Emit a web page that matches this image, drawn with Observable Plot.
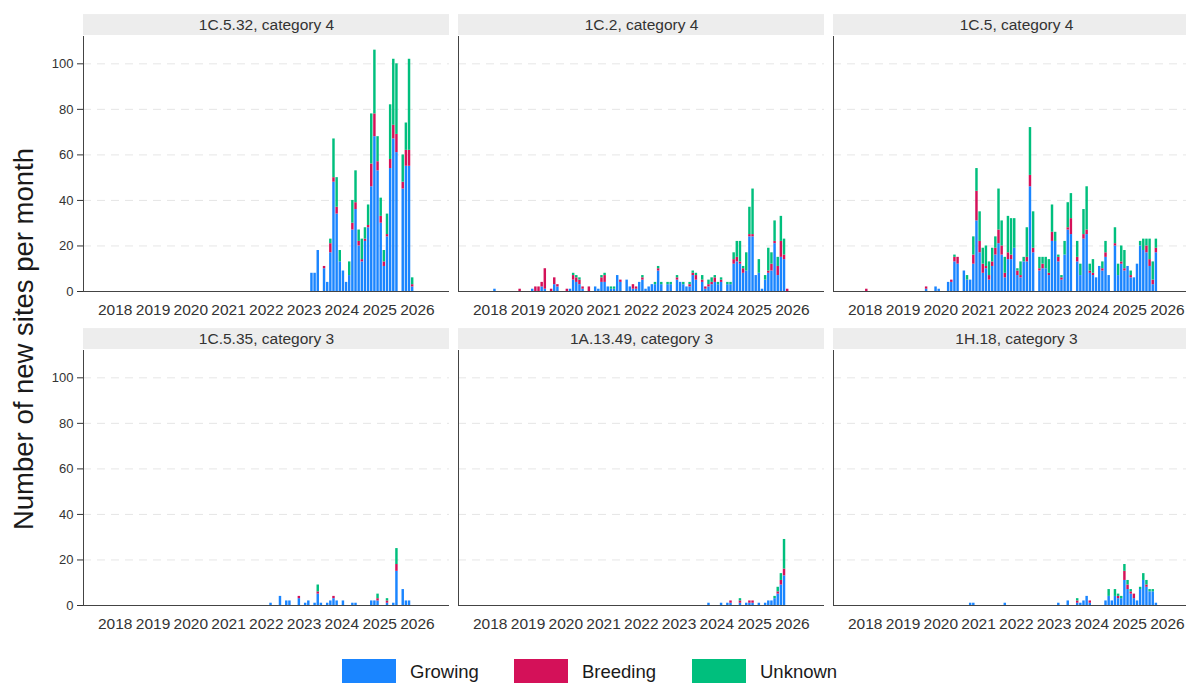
<!DOCTYPE html>
<html>
<head>
<meta charset="utf-8">
<script src="https://cdn.jsdelivr.net/npm/d3@7"></script>
<script src="https://cdn.jsdelivr.net/npm/@observablehq/plot@0.6"></script>
<style>
html, body { margin: 0; padding: 0; background: #fff; overflow: hidden; }
#wrap { position: relative; width: 1186px; height: 683px; overflow: hidden; font-family: "Liberation Sans", Arial, sans-serif; }
#chart { position: absolute; left: 0; top: 0; width: 1200px; }
#chart svg { max-width: none !important; }
#ytitle { position: absolute; left: 24px; top: 339px; transform: translate(-50%, -50%) rotate(-90deg); font-size: 27.5px; color: #1a1a1a; white-space: nowrap; line-height: 1.15; }
.key { position: absolute; top: 659px; width: 54px; height: 30px; }
.lab { position: absolute; top: 663px; font-size: 18.5px; line-height: 1; color: #1a1a1a; white-space: nowrap; }
</style>
</head>
<body>
<div id="wrap">
  <div id="chart"></div>
  <div id="ytitle">Number of new sites per month</div>
  <div id="legend"></div>
</div>
<script>
// ---- data (months counted from January 2018 = 0) ----
const panelLabels = ["1C.5.32, category 4", "1C.2, category 4", "1C.5, category 4",
                     "1C.5.35, category 3", "1A.13.49, category 3", "1H.18, category 3"];
const seriesNames = ["Growing", "Breeding", "Unknown"];
const seriesColors = ["#1A85FF", "#D41159", "#00BF7D"];
const years = [2018, 2019, 2020, 2021, 2022, 2023, 2024, 2025, 2026];
const yTicks = [0, 20, 40, 60, 80, 100];
const gridTicks = [20, 40, 60, 80, 100];

// 1C.5.32, category 4
const p1Months   = [62,63,64,66,67,68,69,70,71,72,73,74,75,76,77,78,79,80,81,82,83,84,85,86,87,88,89,91,92,93,94];
const p1Growing  = [8,8,18,10,4,17,48,34,13,9,4,7,27,36,20,13,22,28,46,68,53,30,11,24,54,67,61,45,55,55,2];
const p1Breeding = [0,0,0,1,0,4,2,3,0,0,0,0,3,3,2,1,1,1,10,10,4,3,2,1,4,6,8,3,7,7,1];
const p1Unknown  = [0,0,0,0,0,2,17,13,5,0,0,6,10,14,5,9,5,9,22,28,11,8,5,9,24,29,31,12,12,40,3];

// 1C.2, category 4
const p2Months   = [1,9,13,14,15,16,17,19,20,21,24,25,26,27,28,29,31,33,34,35,36,37,38,39,40,41,43,44,45,46,47,48,49,50,51,52,53,54,56,57,59,60,61,62,63,64,65,67,68,69,70,71,72,73,75,76,77,78,79,80,81,82,83,84,85,86,87,88,89,90,91,92,93,94];
const p2Growing  = [1,0,1,0,0,2,1,0,3,2, 0,1,5,4,3,1,0,2,1,4, 4,2,1,1,7,4,5,2,1,1, 4,5,1,2,3,3,9,3,3,3, 5,4,3,2,2,7,5,4,1,2, 3,4,3,4,3,3,12,13,12,8, 9,24,24,7,8,1,5,8,9,21, 7,15,14,0];
const p2Breeding = [0,1,0,2,2,2,9,1,3,1, 1,0,2,2,2,1,2,0,0,2, 3,0,0,0,0,1,0,0,2,1, 0,1,0,0,0,0,1,0,0,0, 1,0,0,0,1,1,2,1,1,1, 1,2,0,1,0,0,2,2,1,2, 0,1,1,0,0,0,0,1,3,1, 4,7,2,1];
const p2Unknown  = [0,0,0,0,0,0,0,0,0,0, 0,0,1,1,1,0,0,0,0,1, 1,0,1,1,0,0,0,0,0,0, 0,1,0,0,0,1,1,1,1,1, 1,0,1,0,1,1,1,2,0,2, 2,1,1,1,1,1,3,7,9,1, 8,12,20,0,6,0,2,10,5,9, 4,11,7,0];

// 1C.5, category 4
const p3Months   = [0,19,22,23,26,27,28,29,31,32,33,34,35,36,37,38,39,40,41,42,43,44,45,46,47,48,49,50,51,52,53,55,56,57,58,59,60,61,62,63,64,65,67,68,69,70,71,72,73,74,75,76,77,79,80,81,82,83,84,85,86,87,88,89,90,91,92];
const p3Growing  = [0,1,2,1,4,4,13,12,9,5, 5,12,31,17,8,10,5,11,16,21, 16,6,14,14,19,7,6,13,13,46, 17,9,10,10,7,22,22,13,5,16, 27,25,13,7,23,25,8,7,6,11, 9,15,7,20,7,12,9,11,6,6, 12,20,18,17,11,3,17];
const p3Breeding = [1,1,0,0,0,1,2,3,0,0, 0,4,13,5,4,1,2,2,3,6, 4,2,3,2,0,2,1,0,2,5, 2,1,2,0,1,4,0,2,1,0, 1,7,2,0,2,2,1,1,0,0, 1,2,0,1,0,1,1,0,1,0, 0,0,0,3,3,2,2];
const p3Unknown  = [0,0,0,0,0,0,1,0,0,2, 0,8,10,13,7,9,6,6,5,18, 11,7,16,16,13,1,6,2,13,21, 16,5,3,5,6,12,4,1,1,6, 11,11,7,5,11,19,3,6,0,0, 3,5,0,7,5,7,8,0,2,0, 0,2,5,3,9,8,4];

// 1C.5.35, category 3
const p4Months   = [49,52,54,55,58,60,61,63,64,65,67,68,69,70,72,75,76,81,82,83,86,88,89,91,92,93];
const p4Growing  = [1,4,2,2,3,1,2,1,5,1, 1,2,3,2,2,1,1,2,2,2, 1,1,15,7,2,2];
const p4Breeding = [0,0,0,0,1,0,0,0,1,0, 0,0,1,0,0,0,0,0,0,1, 1,0,3,0,0,0];
const p4Unknown  = [0,0,0,0,0,0,0,0,3,0, 0,0,0,0,0,0,0,0,0,2, 1,0,7,0,0,0];

// 1A.13.49, category 3
const p5Months   = [69,73,75,76,79,81,82,83,85,87,88,89,90,91,92,93];
const p5Growing  = [1,1,1,1,1,1,1,1,1,1,2,2,3,5,9,13];
const p5Breeding = [0,0,0,1,1,0,1,1,0,0,0,0,0,1,2,3];
const p5Unknown  = [0,0,0,0,1,0,0,0,0,0,0,0,1,2,3,13];

// 1H.18, category 3
const p6Months   = [33,34,44,61,64,67,68,69,70,71,76,77,78,79,80,81,82,83,84,85,86,87,88,89,90,91,92];
const p6Growing  = [1,1,1,1,2,1,1,2,4,1, 2,4,2,4,3,3,11,7,5,3, 2,7,11,8,6,6,1];
const p6Breeding = [0,0,0,0,0,1,0,0,0,1, 0,0,0,0,1,0,4,2,1,2, 0,0,0,1,0,0,0];
const p6Unknown  = [0,0,0,0,0,1,0,0,0,0, 0,3,0,3,1,1,3,2,1,0, 0,1,3,2,1,1,0];

// ---- build tables ----
const panelSeries = [
  [p1Months, p1Growing, p1Breeding, p1Unknown],
  [p2Months, p2Growing, p2Breeding, p2Unknown],
  [p3Months, p3Growing, p3Breeding, p3Unknown],
  [p4Months, p4Growing, p4Breeding, p4Unknown],
  [p5Months, p5Growing, p5Breeding, p5Unknown],
  [p6Months, p6Growing, p6Breeding, p6Unknown]
];
const bars = [];
panelSeries.forEach(([months, g, b, u], i) => {
  months.forEach((m, j) => {
    [g[j], b[j], u[j]].forEach((v, k) => {
      if (v > 0) bars.push({
        col: i % 3, row: Math.floor(i / 3),
        start: 2018 + m / 12, end: 2018 + (m + 1) / 12,
        series: seriesNames[k], value: v
      });
    });
  });
});
const strips = panelLabels.map((label, i) => ({label, col: i % 3, row: Math.floor(i / 3)}));

// ---- layout constants ----
const xDomain = [2017.16, 2026.85];
const yMax = 112;
const facetHeight = 256;
const pxY = yMax / facetHeight;
const font = '"Liberation Sans", Arial, sans-serif';

const chart = Plot.plot({
  width: 1200, height: 640,
  marginLeft: 82, marginRight: 1, marginTop: 35, marginBottom: 34,
  style: {fontFamily: font, background: "transparent", maxWidth: "none"},
  fx: {domain: [0, 1, 2], paddingInner: 0.0253, paddingOuter: 0, axis: null},
  fy: {domain: [0, 1], paddingInner: 0.1873, paddingOuter: 0, axis: null},
  x: {domain: xDomain},
  y: {domain: [0, yMax]},
  color: {domain: seriesNames, range: seriesColors},
  marks: [
    Plot.rect(strips, {x1: xDomain[0], x2: xDomain[1], y1: yMax + 1 * pxY, y2: yMax + 22 * pxY, fx: "col", fy: "row", fill: "#ededed"}),
    Plot.ruleY(gridTicks, {stroke: "#e6e6e6", strokeDasharray: "8,6"}),
    Plot.rectY(bars, {x1: "start", x2: "end", y: "value", fill: "series", fx: "col", fy: "row", insetLeft: 0.35, insetRight: 0.35}),
    Plot.ruleY([0], {stroke: "#444"}),
    Plot.ruleX([xDomain[0]], {stroke: "#444"}),
    Plot.axisX({ticks: years, tickFormat: d => String(d), tickSize: 0, tickPadding: 12, fontSize: 15.5, facetAnchor: null, label: null, color: "#333"}),
    Plot.axisY({ticks: yTicks, tickSize: 6, tickPadding: 4, fontSize: 13, label: null, color: "#333"}),
    Plot.text(strips, {x: (xDomain[0] + xDomain[1]) / 2, y: yMax + 11.5 * pxY, text: "label", fx: "col", fy: "row", fontSize: 15.5, fill: "#333"})
  ]
});
document.getElementById("chart").appendChild(chart);

// ---- legend ----
const legend = document.getElementById("legend");
const keyLefts = [342, 514, 692];
seriesNames.forEach((name, i) => {
  const key = document.createElement("div");
  key.className = "key";
  key.style.left = keyLefts[i] + "px";
  key.style.background = seriesColors[i];
  legend.appendChild(key);
  const lab = document.createElement("div");
  lab.className = "lab";
  lab.style.left = (keyLefts[i] + 68) + "px";
  lab.textContent = name;
  legend.appendChild(lab);
});
</script>
</body>
</html>
